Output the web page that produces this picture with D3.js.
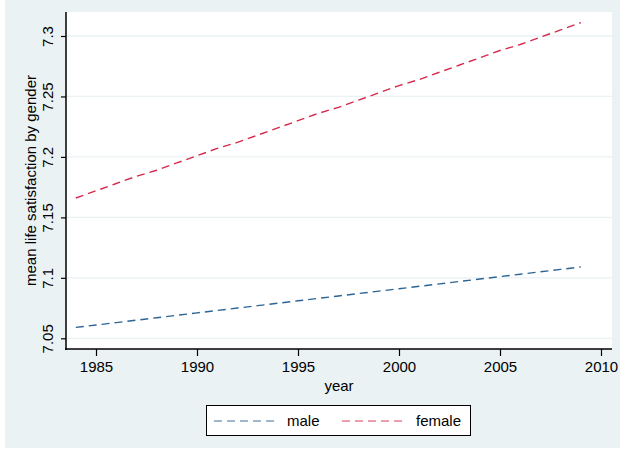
<!DOCTYPE html>
<html><head><meta charset="utf-8">
<script src="https://cdn.jsdelivr.net/npm/d3@7"></script>
<style>
html,body{margin:0;padding:0;background:#fff;}
svg{display:block;}
text{font-family:"Liberation Sans",Arial,sans-serif;fill:#000;}
</style></head>
<body>
<svg id="c" width="620" height="449"></svg>
<script>
const years = [1984,1985,1986,1987,1988,1989,1990,1991,1992,1993,1994,1995,1996,1997,1998,1999,2000,2001,2002,2003,2004,2005,2006,2007,2008,2009];
const male = [7.059,7.061,7.063,7.065,7.067,7.069,7.071,7.073,7.075,7.077,7.079,7.081,7.083,7.085,7.087,7.089,7.091,7.093,7.095,7.097,7.099,7.101,7.103,7.105,7.107,7.109];
const female = [7.166,7.172,7.178,7.184,7.189,7.195,7.201,7.207,7.212,7.218,7.224,7.230,7.236,7.241,7.247,7.253,7.259,7.264,7.270,7.276,7.282,7.288,7.293,7.299,7.305,7.311];
const xTicks = [1985,1990,1995,2000,2005,2010];
const yTicks = [7.05,7.1,7.15,7.2,7.25,7.3];
const seriesNames = ["male","female"];
const seriesColors = ["#2c6494","#d62a4c"];

const svg = d3.select("#c");
const L=66, R=612, T=12, B=349;
svg.append("rect").attr("x",5).attr("y",0).attr("width",615).attr("height",448).attr("fill","#eaf2f3");
svg.append("rect").attr("x",L).attr("y",T).attr("width",R-L).attr("height",B-T).attr("fill","#fff");

const x = d3.scaleLinear().domain([1985,2010]).range([96,601]);
const y = d3.scaleLinear().domain([7.05,7.3]).range([338.3,36]);

// grid
svg.append("g").selectAll("line").data(yTicks).join("line")
  .attr("x1",L).attr("x2",R).attr("y1",d=>y(d)).attr("y2",d=>y(d))
  .attr("stroke","#eaf2f3").attr("stroke-width",1.3);

// lines
const data = [male, female];
const line = d3.line().x((d,i)=>x(years[i])).y(d=>y(d));
data.forEach((s,k)=>{
  svg.append("path").datum(s).attr("d",line).attr("fill","none")
    .attr("stroke",seriesColors[k]).attr("stroke-width",1.4)
    .attr("stroke-dasharray","8,5");
});

// x axis
const xa = svg.append("g").attr("transform",`translate(0,${B})`)
  .call(d3.axisBottom(x).tickValues(xTicks).tickFormat(d3.format("d")).tickSizeOuter(0).tickSize(7).tickPadding(5));
xa.select(".domain").remove();
xa.selectAll("line").attr("stroke","#000").attr("stroke-width",1.2);
xa.selectAll("text").style("font-size","15px").attr("font-family",null);
svg.append("line").attr("x1",L-1).attr("x2",R).attr("y1",B).attr("y2",B).attr("stroke","#000").attr("stroke-width",1.5);

// y axis
const ya = svg.append("g").attr("transform",`translate(${L},0)`)
  .call(d3.axisLeft(y).tickValues(yTicks).tickFormat(d=>String(d)).tickSizeOuter(0).tickSize(5));
ya.select(".domain").remove();
ya.selectAll("line").attr("stroke","#000").attr("stroke-width",1.2);
ya.selectAll("text").attr("x",null).attr("dy",null)
  .attr("transform","translate(-13,0) rotate(-90)")
  .attr("text-anchor","middle").style("font-size","15px").attr("font-family",null);
svg.append("line").attr("x1",L).attr("x2",L).attr("y1",T).attr("y2",B+1).attr("stroke","#000").attr("stroke-width",1.5);

// axis titles
svg.append("text").attr("x",(L+R)/2).attr("y",391).attr("text-anchor","middle").style("font-size","15px").text("year");
svg.append("text").attr("transform",`translate(36,${(T+B)/2}) rotate(-90)`).attr("text-anchor","middle").style("font-size","15px").text("mean life satisfaction by gender");

// legend
svg.append("rect").attr("x",206.5).attr("y",405.5).attr("width",264).attr("height",30).attr("fill","#fff").attr("stroke","#000").attr("stroke-width",1);
const lx = [[214,274,287],[342,404,416]];
seriesNames.forEach((n,k)=>{
  svg.append("line").attr("x1",lx[k][0]).attr("x2",lx[k][1]).attr("y1",421).attr("y2",421)
    .attr("stroke",seriesColors[k]).attr("stroke-width",1.4).attr("stroke-dasharray","8,5").attr("opacity",0.6);
  svg.append("text").attr("x",lx[k][2]).attr("y",426).style("font-size","15px").text(n);
});
</script>
</body></html>
